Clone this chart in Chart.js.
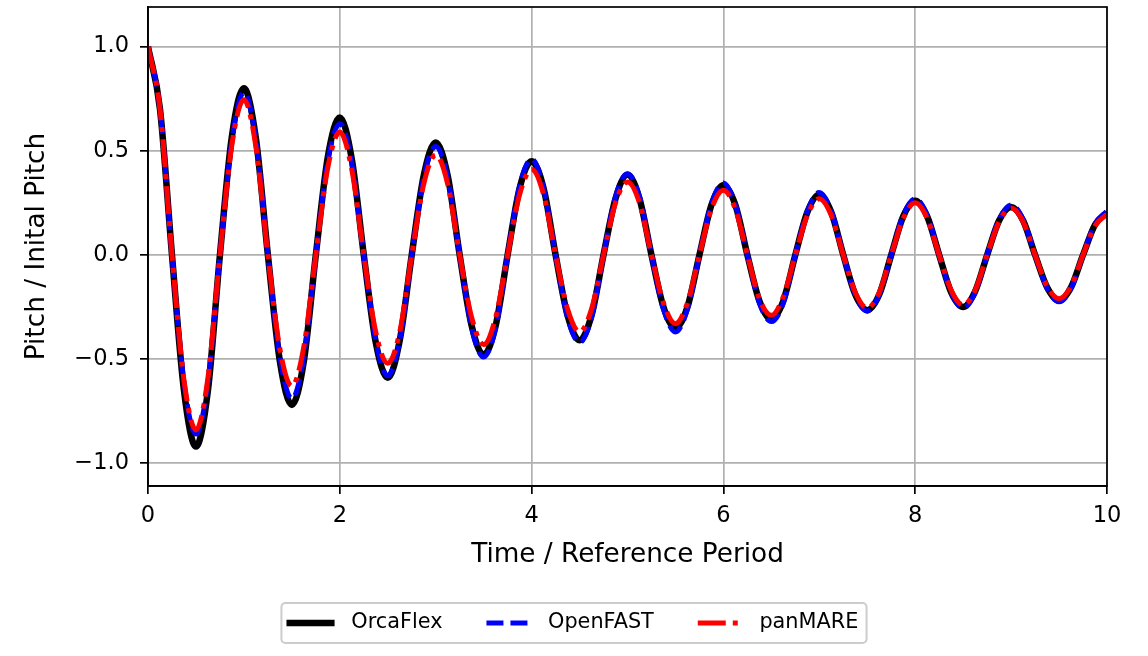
<!DOCTYPE html>
<html>
<head>
<meta charset="utf-8">
<script src="https://cdn.jsdelivr.net/npm/chart.js@4.4.1/dist/chart.umd.min.js"></script>
<style>
  html, body { margin: 0; padding: 0; background: #fff; }
  canvas { display: block; }
</style>
</head>
<body>
<canvas id="pitchChart" width="1148" height="656"></canvas>
<script>
// time in reference periods (samples every 1/8 period)
const time = [
  0, 0.125, 0.25, 0.375, 0.5, 0.625, 0.75, 0.875,
  1, 1.125, 1.25, 1.375, 1.5, 1.625, 1.75, 1.875,
  2, 2.125, 2.25, 2.375, 2.5, 2.625, 2.75, 2.875,
  3, 3.125, 3.25, 3.375, 3.5, 3.625, 3.75, 3.875,
  4, 4.125, 4.25, 4.375, 4.5, 4.625, 4.75, 4.875,
  5, 5.125, 5.25, 5.375, 5.5, 5.625, 5.75, 5.875,
  6, 6.125, 6.25, 6.375, 6.5, 6.625, 6.75, 6.875,
  7, 7.125, 7.25, 7.375, 7.5, 7.625, 7.75, 7.875,
  8, 8.125, 8.25, 8.375, 8.5, 8.625, 8.75, 8.875,
  9, 9.125, 9.25, 9.375, 9.5, 9.625, 9.75, 9.875,
  10
];

const orcaFlex = [
  1.00, 0.70, 0.00, -0.65, -0.92, -0.65, 0.00, 0.57,
  0.80, 0.56, 0.00, -0.51, -0.72, -0.51, 0.00, 0.47,
  0.66, 0.46, 0.00, -0.42, -0.59, -0.41, 0.00, 0.38,
  0.54, 0.38, 0.00, -0.34, -0.48, -0.34, 0.00, 0.32,
  0.45, 0.32, 0.00, -0.29, -0.41, -0.29, 0.00, 0.27,
  0.385, 0.27, 0.00, -0.25, -0.35, -0.25, 0.00, 0.24,
  0.335, 0.24, 0.00, -0.22, -0.31, -0.22, 0.00, 0.205,
  0.29, 0.205, 0.00, -0.19, -0.265, -0.19, 0.00, 0.185,
  0.26, 0.185, 0.00, -0.18, -0.25, -0.175, 0.00, 0.165,
  0.23, 0.165, 0.00, -0.155, -0.22, -0.155, 0.00, 0.145,
  0.205
];

const openFast = [
  1.00, 0.70, 0.00, -0.61, -0.86, -0.61, 0.00, 0.55,
  0.78, 0.55, 0.00, -0.49, -0.69, -0.49, 0.00, 0.45,
  0.63, 0.44, 0.00, -0.41, -0.58, -0.41, 0.00, 0.37,
  0.52, 0.37, 0.00, -0.35, -0.49, -0.35, 0.00, 0.33,
  0.46, 0.32, 0.00, -0.30, -0.42, -0.30, 0.00, 0.28,
  0.39, 0.28, 0.00, -0.26, -0.37, -0.26, 0.00, 0.245,
  0.345, 0.24, 0.00, -0.23, -0.32, -0.23, 0.00, 0.21,
  0.30, 0.21, 0.00, -0.19, -0.27, -0.19, 0.00, 0.19,
  0.27, 0.19, 0.00, -0.18, -0.255, -0.18, 0.00, 0.17,
  0.24, 0.17, 0.00, -0.16, -0.225, -0.16, 0.00, 0.15,
  0.21
];

const panMare = [
  1.00, 0.70, 0.00, -0.60, -0.84, -0.59, 0.00, 0.53,
  0.745, 0.52, 0.00, -0.45, -0.63, -0.44, 0.00, 0.42,
  0.59, 0.41, 0.00, -0.37, -0.52, -0.37, 0.00, 0.34,
  0.48, 0.34, 0.00, -0.30, -0.43, -0.30, 0.00, 0.29,
  0.41, 0.29, 0.00, -0.26, -0.37, -0.26, 0.00, 0.25,
  0.35, 0.25, 0.00, -0.23, -0.33, -0.23, 0.00, 0.22,
  0.31, 0.22, 0.00, -0.21, -0.29, -0.20, 0.00, 0.19,
  0.27, 0.19, 0.00, -0.18, -0.255, -0.18, 0.00, 0.175,
  0.25, 0.175, 0.00, -0.17, -0.24, -0.17, 0.00, 0.16,
  0.225, 0.16, 0.00, -0.15, -0.21, -0.15, 0.00, 0.14,
  0.195
];

const xTicks = [0, 2, 4, 6, 8, 10];
const yTicks = [-1.0, -0.5, 0.0, 0.5, 1.0];

const FONT = "'DejaVu Sans', 'Liberation Sans', sans-serif";

const series = [
  { label: "OrcaFlex", values: orcaFlex, color: "#000000", width: 6.5, dash: [], order: 3 },
  { label: "OpenFAST", values: openFast, color: "#0000ff", width: 5, dash: [17, 7], order: 2 },
  { label: "panMARE", values: panMare, color: "#ff0000", width: 5, dash: [28, 7, 5, 7], order: 1 }
];

// frame around the plot like matplotlib spines
const framePlugin = {
  id: "frame",
  afterDatasetsDraw(chart) {
    const { ctx, chartArea: a } = chart;
    ctx.save();
    ctx.strokeStyle = "#000";
    ctx.lineWidth = 1.7;
    ctx.strokeRect(a.left, a.top, a.right - a.left, a.bottom - a.top);
    ctx.restore();
  }
};

// boxed legend below the axis title
const legendBoxPlugin = {
  id: "legendBox",
  afterDraw(chart) {
    const ctx = chart.ctx;
    const fs = 20.8;
    const pad = 8.3, handle = 41.6, textPad = 20, colGap = 44;
    ctx.save();
    ctx.font = `${fs}px ${FONT}`;
    const widths = series.map(s => ctx.measureText(s.label).width);
    const total = widths.reduce((a, w) => a + handle + textPad + w, 0) + colGap * (series.length - 1);
    const boxW = total + 2 * pad;
    const boxH = 40;
    const cx = 574, cy = 623;
    const left = cx - boxW / 2, top = cy - boxH / 2;

    ctx.beginPath();
    ctx.roundRect(left, top, boxW, boxH, 4);
    ctx.fillStyle = "rgba(255,255,255,0.8)";
    ctx.fill();
    ctx.strokeStyle = "#cccccc";
    ctx.lineWidth = 2;
    ctx.stroke();

    let x = left + pad;
    series.forEach((s, i) => {
      ctx.beginPath();
      ctx.strokeStyle = s.color;
      ctx.lineWidth = s.width;
      ctx.setLineDash(s.dash);
      ctx.lineCap = s.dash.length ? "butt" : "square";
      ctx.moveTo(x, cy);
      ctx.lineTo(x + handle, cy);
      ctx.stroke();
      ctx.setLineDash([]);
      ctx.fillStyle = "#000";
      ctx.textAlign = "left";
      ctx.textBaseline = "middle";
      ctx.fillText(s.label, x + handle + textPad, cy);
      x += handle + textPad + widths[i] + colGap;
    });
    ctx.restore();
  }
};

const ctx = document.getElementById("pitchChart").getContext("2d");

new Chart(ctx, {
  type: "line",
  data: {
    datasets: series.map(s => ({
      label: s.label,
      data: time.map((t, i) => ({ x: t, y: s.values[i] })),
      borderColor: s.color,
      borderWidth: s.width,
      borderDash: s.dash,
      borderCapStyle: "butt",
      pointRadius: 0,
      fill: false,
      cubicInterpolationMode: "monotone",
      order: s.order
    }))
  },
  options: {
    responsive: false,
    animation: false,
    devicePixelRatio: 1,
    layout: { padding: { left: 0, top: 7, right: 41, bottom: 80 } },
    plugins: {
      legend: { display: false },
      tooltip: { enabled: false }
    },
    scales: {
      x: {
        type: "linear",
        min: 0,
        max: 10,
        afterBuildTicks: scale => { scale.ticks = xTicks.map(v => ({ value: v })); },
        afterFit: scale => { scale.height = 90; },
        ticks: {
          color: "#000",
          font: { family: FONT, size: 22.5 },
          padding: 9,
          maxRotation: 0,
          callback: v => String(v)
        },
        grid: { color: "#b0b0b0", lineWidth: 1.7, tickColor: "#000", tickLength: 8, tickWidth: 1.7 },
        border: { display: true, color: "#000", width: 1.7 },
        title: {
          display: true,
          text: "Time / Reference Period",
          color: "#000",
          font: { family: FONT, size: 26.3 },
          padding: { top: 5, bottom: 5 }
        }
      },
      y: {
        type: "linear",
        min: -1.109,
        max: 1.19,
        afterBuildTicks: scale => { scale.ticks = yTicks.map(v => ({ value: v })); },
        afterFit: scale => {
          scale.width = 148;
          scale.paddingTop = 0;
          scale.paddingBottom = 0;
        },
        ticks: {
          color: "#000",
          font: { family: FONT, size: 22.5 },
          padding: 11,
          callback: v => (v < 0 ? "\u2212" : "") + Math.abs(v).toFixed(1)
        },
        grid: { color: "#b0b0b0", lineWidth: 1.7, tickColor: "#000", tickLength: 8, tickWidth: 1.7 },
        border: { display: true, color: "#000", width: 1.7 },
        title: {
          display: true,
          text: "Pitch / Inital Pitch",
          color: "#000",
          font: { family: FONT, size: 26.3 },
          padding: { top: 21, bottom: 21 }
        }
      }
    }
  },
  plugins: [framePlugin, legendBoxPlugin]
});
</script>
</body>
</html>
